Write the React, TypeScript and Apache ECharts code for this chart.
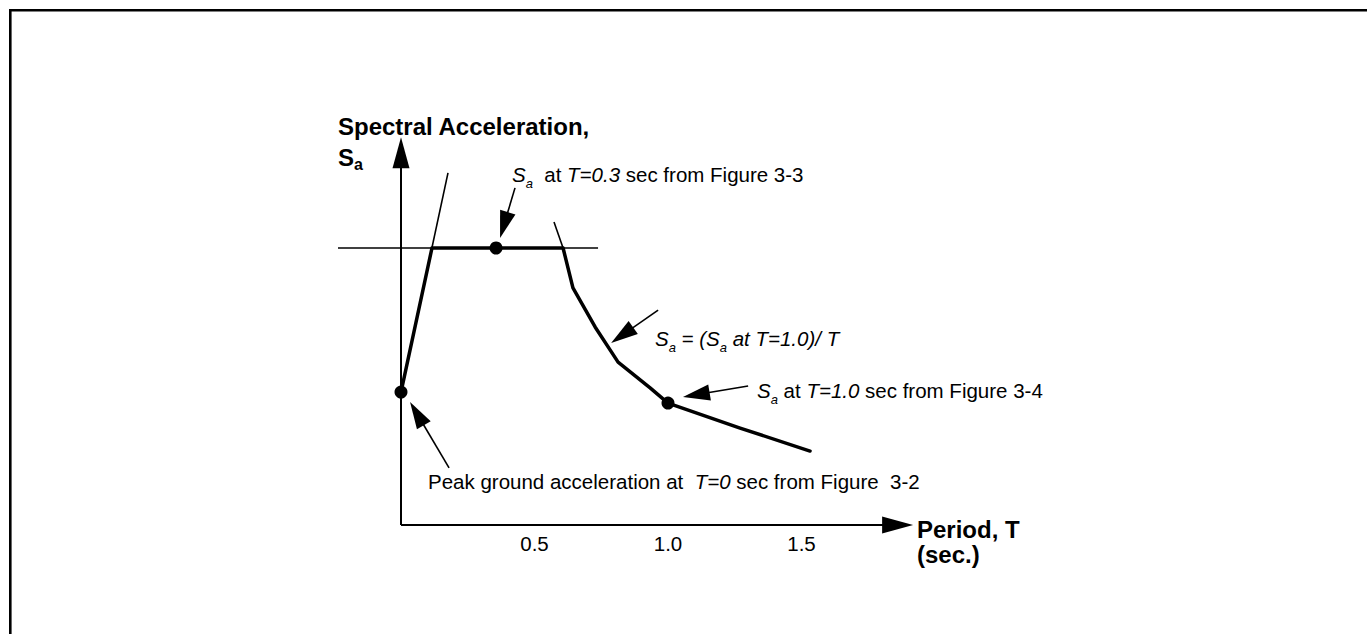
import React, { useEffect, useRef } from "react";
import * as echarts from "echarts";

// ---- data (period T in s, spectral acceleration Sa, schematic units) ----
const periodTicks = [0.5, 1.0, 1.5];

// bold design spectrum
const spectrumT = [0, 0.116, 0.607, 0.644, 0.727, 0.813, 0.933, 1.0, 1.27, 1.532];
const spectrumSa = [0.48, 1.0, 1.0, 0.856, 0.715, 0.588, 0.495, 0.44, 0.35, 0.267];

// thin construction lines
const rampGuideT = [0, 0.176];
const rampGuideSa = [0.48, 1.271];
const plateauGuideT = [-0.236, 0.738];
const plateauGuideSa = [1.0, 1.0];
const dropGuideT = [0.573, 0.607];
const dropGuideSa = [1.094, 1.0];

// marked points: PGA, Sa at T=0.3, Sa at T=1.0
const pointT = [0, 0.356, 1.0];
const pointSa = [0.48, 1.0, 0.44];

// axes (tail T, tail Sa, tip T, tip Sa)
const axisArrows = [
  [0, 0, 0, 1.4],
  [0, 0, 1.918, 0],
];

// annotation arrows (tail T, tail Sa, tip T, tip Sa)
const noteArrows = [
  [0.427, 1.217, 0.371, 1.036],
  [0.963, 0.776, 0.787, 0.657],
  [1.3, 0.502, 1.056, 0.462],
  [0.18, 0.206, 0.034, 0.444],
];

const FONT = "'Liberation Sans', Arial, Helvetica, sans-serif";
const R = 20.5;

const pairs = (xs: number[], ys: number[]) => xs.map((x, i) => [x, ys[i]]);

function arrowRenderer(headLen: number, headW: number, lw: number) {
  return (params: any, api: any) => {
    const p0 = api.coord([api.value(0), api.value(1)]);
    const p1 = api.coord([api.value(2), api.value(3)]);
    const dx = p1[0] - p0[0];
    const dy = p1[1] - p0[1];
    const len = Math.sqrt(dx * dx + dy * dy) || 1;
    const ux = dx / len;
    const uy = dy / len;
    const bx = p1[0] - ux * headLen;
    const by = p1[1] - uy * headLen;
    const nx = -uy * (headW / 2);
    const ny = ux * (headW / 2);
    return {
      type: "group",
      children: [
        {
          type: "line",
          shape: { x1: p0[0], y1: p0[1], x2: bx + ux * 2, y2: by + uy * 2 },
          style: { stroke: "#000", lineWidth: lw },
        },
        {
          type: "polygon",
          shape: {
            points: [
              [p1[0], p1[1]],
              [bx + nx, by + ny],
              [bx - nx, by - ny],
            ],
          },
          style: { fill: "#000" },
        },
      ],
    };
  };
}

const rich = {
  n: { fontSize: R, fontFamily: FONT, lineHeight: 30, verticalAlign: "middle", fill: "#000" },
  i: { fontSize: R, fontFamily: FONT, fontStyle: "italic", lineHeight: 30, verticalAlign: "middle", fill: "#000" },
  sub: { fontSize: 13, fontFamily: FONT, fontStyle: "italic", lineHeight: 10, verticalAlign: "bottom", fill: "#000" },
  b: { fontSize: 24, fontFamily: FONT, fontWeight: "bold", lineHeight: 30, verticalAlign: "middle", fill: "#000" },
  bsub: { fontSize: 16, fontFamily: FONT, fontWeight: "bold", lineHeight: 22, verticalAlign: "bottom", fill: "#000" },
};

function note(x: number, y: number, text: string) {
  return {
    type: "text",
    x,
    y,
    style: {
      text,
      rich,
      fontSize: R,
      fontFamily: FONT,
      fill: "#000",
      align: "left",
      verticalAlign: "middle",
    },
  };
}

export default function App() {
  const ref = useRef<HTMLDivElement>(null);

  useEffect(() => {
    if (!ref.current) return;
    const chart = echarts.init(ref.current, undefined, { renderer: "svg" });

    const thin = (data: number[][]) => ({
      type: "line",
      data,
      symbol: "none",
      clip: false,
      lineStyle: { color: "#000", width: 1.6 },
      silent: true,
    });

    chart.setOption({
      animation: false,
      backgroundColor: "#fff",
      grid: { left: 267.5, right: 432, top: 109.5, bottom: 109, outerBoundsMode: "none" },
      xAxis: {
        type: "value",
        min: -0.5,
        max: 2.0,
        axisLine: { show: false },
        axisTick: { show: false },
        splitLine: { show: false },
        axisLabel: {
          customValues: periodTicks,
          formatter: (v: number) => v.toFixed(1),
          fontSize: R,
          fontFamily: FONT,
          color: "#000",
          margin: 8,
        },
      },
      yAxis: {
        type: "value",
        min: 0,
        max: 1.5,
        axisLine: { show: false },
        axisTick: { show: false },
        axisLabel: { show: false },
        splitLine: { show: false },
      },
      series: [
        thin(pairs(rampGuideT, rampGuideSa)),
        thin(pairs(plateauGuideT, plateauGuideSa)),
        thin(pairs(dropGuideT, dropGuideSa)),
        {
          type: "line",
          data: pairs(spectrumT, spectrumSa),
          symbol: "none",
          clip: false,
          lineStyle: { color: "#000", width: 3.5, join: "round", cap: "round" },
        },
        {
          type: "custom",
          data: axisArrows,
          renderItem: arrowRenderer(31, 17, 2),
          clip: false,
        },
        {
          type: "custom",
          data: noteArrows,
          renderItem: arrowRenderer(27, 16, 1.6),
          clip: false,
        },
        {
          type: "scatter",
          data: pairs(pointT, pointSa),
          symbol: "circle",
          symbolSize: 13,
          itemStyle: { color: "#000", opacity: 1 },
          z: 5,
        },
      ],
      graphic: [
        { type: "rect", shape: { x: 9, y: 9, width: 1400, height: 2.6 }, style: { fill: "#000" } },
        { type: "rect", shape: { x: 9, y: 9, width: 2.6, height: 700 }, style: { fill: "#000" } },
        {
          type: "text",
          x: 338,
          y: 126.7,
          style: { text: "{b|Spectral Acceleration,}", rich, align: "left", verticalAlign: "middle" },
        },
        {
          type: "text",
          x: 338,
          y: 157.7,
          style: { text: "{b|S}{bsub|a}", rich, align: "left", verticalAlign: "middle" },
        },
        note(512, 174.9, "{i|S}{sub|a}{n|  at }{i|T=0.3}{n| sec from Figure 3-3}"),
        note(655, 338.9, "{i|S}{sub|a}{i| = (S}{sub|a}{i| at T=1.0)/ T}"),
        note(757, 390.9, "{i|S}{sub|a}{n| at }{i|T=1.0}{n| sec from Figure 3-4}"),
        note(428, 481.9, "{n|Peak ground acceleration at  }{i|T=0}{n| sec from Figure  3-2}"),
        {
          type: "text",
          x: 917,
          y: 529,
          style: { text: "{b|Period, T}", rich, align: "left", verticalAlign: "middle" },
        },
        {
          type: "text",
          x: 917,
          y: 554,
          style: { text: "{b|(sec.)}", rich, align: "left", verticalAlign: "middle" },
        },
      ],
    });

    return () => chart.dispose();
  }, []);

  return (
    <div
      ref={ref}
      style={{ position: "fixed", left: 0, top: 0, width: 1367, height: 634, background: "#fff" }}
    />
  );
}
